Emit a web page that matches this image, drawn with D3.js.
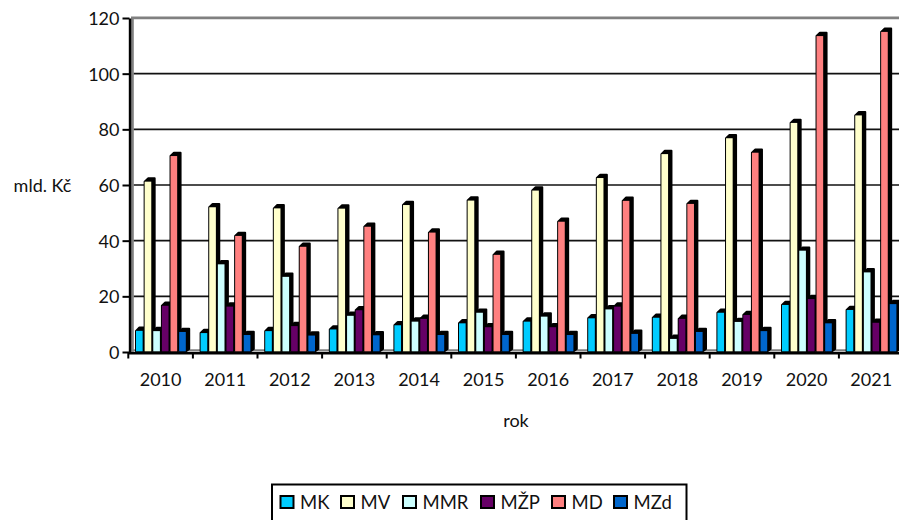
<!DOCTYPE html>
<html><head><meta charset="utf-8">
<script src="https://cdnjs.cloudflare.com/ajax/libs/d3/7.8.5/d3.min.js"></script>
<style>html,body{margin:0;padding:0;background:#fff;overflow:hidden}svg{display:block}text{font-family:Lato,"Open Sans",sans-serif;fill:#111}</style>
</head><body><svg id="c" width="899" height="520"></svg>
<script>
const years=["2010","2011","2012","2013","2014","2015","2016","2017","2018","2019","2020","2021"];
const seriesNames=["MK","MV","MMR","MŽP","MD","MZd"];
const seriesColors=["#00CCFF","#FFFFCC","#CCFFFF","#660066","#FF8080","#0066CC"];
const MK=[7.6,6.8,7.5,8.1,9.6,10.3,10.9,12.1,12.3,14.1,16.9,15.1];
const MV=[61.2,52,51.6,51.5,52.8,54.4,58,62.5,71.1,76.8,82.3,85];
const MMR=[7.5,31.5,27,13,10.9,14.1,12.7,15.3,4.7,10.8,36.4,28.6];
const MZP=[16.6,16.3,9.3,15,11.9,8.9,8.9,16.3,11.9,13.3,19,10.5];
const MD=[70.4,41.7,37.8,45,42.9,34.9,46.8,54.3,53.2,71.6,113.5,115];
const MZd=[7.2,6.1,5.9,6,6.1,6.1,6.1,6.5,7.2,7.5,10.3,17.2];
const seriesValues=[MK,MV,MMR,MZP,MD,MZd];
const yTicks=[0,20,40,60,80,100,120];

const svg=d3.select("#c");
const y=d3.scaleLinear().domain([0,120]).range([352,18]);
const x=d3.scaleBand().domain(years).range([128.3,903.5]);
const bx=d3.scaleBand().domain(seriesNames).range([7.7,59.5]);
const dx=3.4,dy=3.3;

// back wall, top edge and floor
svg.append("path").attr("d","M132.4,352V17.8H899").attr("fill","none").attr("stroke","#808080").attr("stroke-width",2.8);
svg.append("line").attr("x1",131).attr("x2",899).attr("y1",350.4).attr("y2",350.4).attr("stroke","#808080").attr("stroke-width",2.4);
// gridlines
svg.append("g").selectAll("line").data(yTicks.slice(1,-1)).join("line")
 .attr("x1",133.8).attr("x2",899).attr("y1",d=>y(d)).attr("y2",d=>y(d)).attr("stroke","#111").attr("stroke-width",1.7);

// bars
const bars=svg.append("g");
years.forEach((yr,i)=>{
 seriesNames.forEach((s,j)=>{
  const v=seriesValues[j][i];
  const x0=x(yr)+bx(s),w=bx.bandwidth()-2,t=y(v),b=351.3;
  const g=bars.append("g");
  g.append("path").attr("d",`M${x0},${t}L${x0+dx},${t-dy}H${x0+w+dx}V${b-dy+1}L${x0+w},${b}H${x0}Z`)
   .attr("fill","#000").attr("stroke","#000").attr("stroke-width",2).attr("stroke-linejoin","round");
  g.append("rect").attr("x",x0).attr("y",t).attr("width",w).attr("height",b-t)
   .attr("fill",seriesColors[j]);
 });
});

// axes
const yAxis=d3.axisLeft(y).tickValues(yTicks).tickSize(7).tickPadding(3).tickSizeOuter(0);
const gy=svg.append("g").attr("transform","translate(129.5,0)").call(yAxis);
const xAxis=d3.axisBottom(x).tickSize(0).tickPadding(20.5);
const gx=svg.append("g").attr("transform","translate(0,352.7)").call(xAxis);
svg.append("g").selectAll("line").data(years).join("line")
 .attr("x1",d=>x(d)).attr("x2",d=>x(d)).attr("y1",352).attr("y2",358.5).attr("stroke","#000").attr("stroke-width",2);
[gy,gx].forEach(g=>{g.selectAll("path.domain").attr("stroke","#000").attr("stroke-width",2.4);
 g.selectAll("line").attr("stroke","#000").attr("stroke-width",2);
 g.selectAll("text").attr("font-size",18).attr("font-family","Lato").attr("fill","#111");});
gy.selectAll("text").attr("dy","0.36em");

svg.append("text").attr("x",42.5).attr("y",192).attr("text-anchor","middle").attr("font-size",18).text("mld. Kč");
svg.append("text").attr("x",516).attr("y",427).attr("text-anchor","middle").attr("font-size",18).text("rok");

// legend
svg.append("rect").attr("x",272).attr("y",484.5).attr("width",414.5).attr("height",50).attr("fill","#fff").attr("stroke","#000").attr("stroke-width",2);
const legendX=[280.5,341,403,481,552,614];
seriesNames.forEach((s,i)=>{
 svg.append("rect").attr("x",legendX[i]).attr("y",496).attr("width",13).attr("height",12).attr("fill",seriesColors[i]).attr("stroke","#000").attr("stroke-width",2);
 svg.append("text").attr("x",legendX[i]+19.5).attr("y",509).attr("font-size",18.5).text(s);
});
</script></body></html>
